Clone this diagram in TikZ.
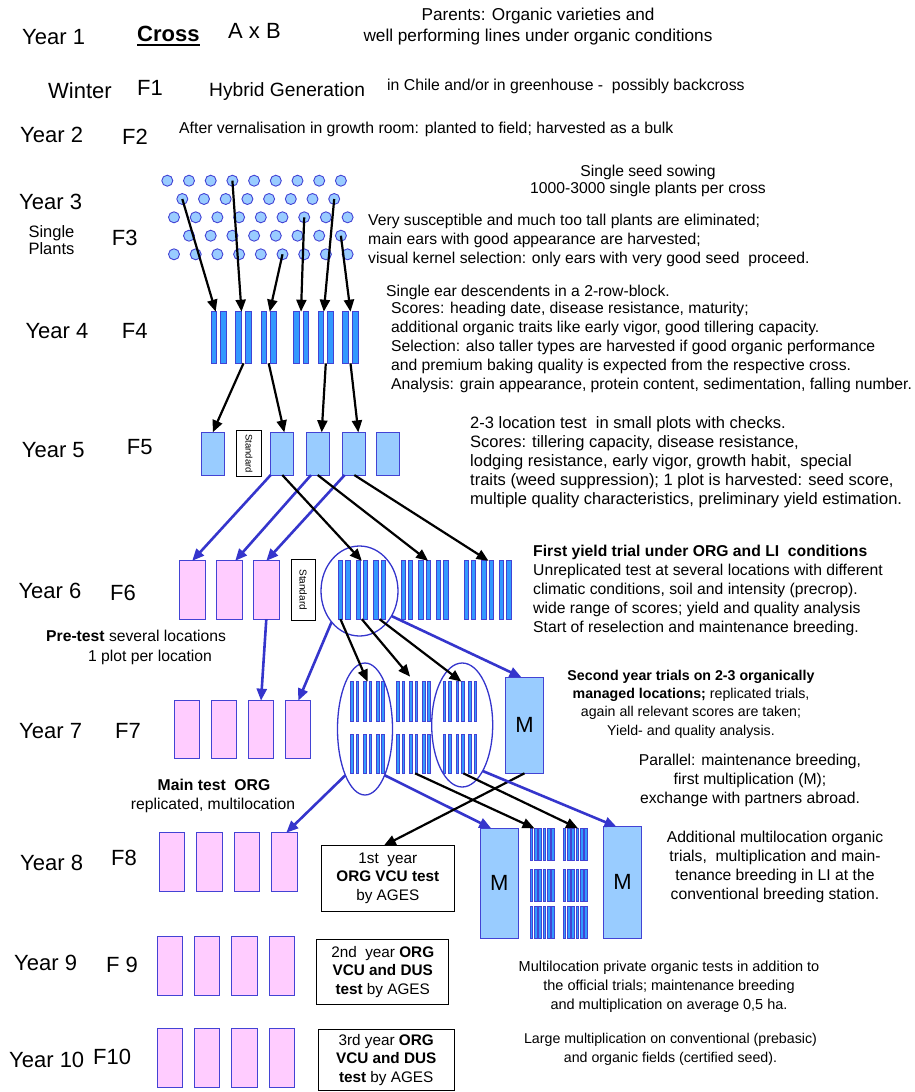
\documentclass[tikz,border=0pt]{standalone}
\usepackage{fontspec}
\setmainfont{Liberation Sans}
\usetikzlibrary{arrows.meta,shapes.geometric}
\definecolor{lb}{HTML}{99CCFF}
\definecolor{bd}{HTML}{4343D4}
\definecolor{bb}{HTML}{3399FF}
\definecolor{pk}{HTML}{FFCCFF}
\definecolor{ab}{HTML}{3535CC}
\tikzset{
  yr/.style={anchor=base west, inner sep=0pt, font=\fontsize{22}{26}\selectfont},
  tl/.style={anchor=base west, inner sep=0pt, font=\fontsize{15.7}{19}\selectfont},
  blk/.style={anchor=north west, inner sep=0pt, align=left, font=\fontsize{15.7}{19}\selectfont, execute at begin node=\strut},
  cblk/.style={anchor=north, inner sep=0pt, align=center, font=\fontsize{15.7}{19}\selectfont, execute at begin node=\strut},
  dotn/.style={circle, draw=bd, fill=lb, line width=0.9pt, minimum size=11pt, inner sep=0pt, outer sep=0pt},
  slot/.style 2 args={rectangle, inner sep=0pt, outer sep=0pt, minimum width=#1pt, minimum height=#2pt},
  barn/.style 2 args={slot={#1}{#2}, draw=bd, fill=bb, line width=0.8pt},
  lbox/.style 2 args={slot={#1}{#2}, draw=bd, fill=lb, line width=1pt},
  pbox/.style 2 args={slot={#1}{#2}, draw=bd, fill=pk, line width=1pt},
  sbox/.style 2 args={slot={#1}{#2}, draw=black, fill=white, line width=0.9pt},
  elln/.style 2 args={ellipse, draw=ab, line width=1.3pt, inner sep=0pt, outer sep=0pt, minimum width=#1pt, minimum height=#2pt},
  arrk/.style={draw=black, line width=2.2pt, -{Triangle[length=12pt,width=10pt]}},
  arrb/.style={draw=ab, line width=2.6pt, -{Triangle[length=12pt,width=10pt]}},
}
\begin{document}
\begin{tikzpicture}[x=1pt,y=-1pt]
\useasboundingbox (0,0) rectangle (914,1092);

% ---------- year and generation labels ----------
\node[yr] (y1) at (22,44) {Year 1};
\node[yr] (ywin) at (48,98) {Winter};
\node[yr] (y2) at (20,142) {Year 2};
\node[yr] (y3) at (19,209.3) {Year 3};
\node[yr] (y4) at (25.3,338.3) {Year 4};
\node[yr] (y5) at (21.7,457.7) {Year 5};
\node[yr] (y6) at (18.3,598.3) {Year 6};
\node[yr] (y7) at (19,738) {Year 7};
\node[yr] (y8) at (20,870) {Year 8};
\node[yr] (y9) at (14,970) {Year 9};
\node[yr] (y10) at (9,1067) {Year 10};

\node[yr] (fa) at (137,95) {F1};
\node[yr] (fb) at (122,144) {F2};
\node[yr] (fc) at (111.7,245) {F3};
\node[yr] (fd) at (121.7,338.3) {F4};
\node[yr] (fe) at (126.7,454.3) {F5};
\node[yr] (ff) at (110,600) {F6};
\node[yr] (fg) at (115,738) {F7};
\node[yr] (fh) at (111,865) {F8};
\node[yr] (fi) at (106,972) {F 9};
\node[yr] (fj) at (93,1064) {F10};

\node[anchor=north west, inner sep=0pt, align=left, font=\fontsize{16.5}{16.7}\selectfont, execute at begin node=\strut] (sp) at (28.3,225.6) {Single\\Plants};

% ---------- top texts ----------
\node[anchor=base west, inner sep=0pt, font=\fontsize{22}{26}\selectfont\bfseries] (cross) at (137,41) {Cross};
\draw[line width=2pt] ([yshift=-3.5pt]cross.base west) -- ([yshift=-3.5pt]cross.base east);
\node[yr] (axb) at (228,38) {A x B};
\node[anchor=north, inner sep=0pt, align=center, font=\fontsize{17.2}{21}\selectfont, execute at begin node=\strut] (par) at (538,7.5) {Parents: Organic varieties and\\well performing lines under organic conditions};
\node[anchor=base west, inner sep=0pt, font=\fontsize{19.2}{22}\selectfont] (hyb) at (209,96.5) {Hybrid Generation};
\node[anchor=base west, inner sep=0pt, font=\fontsize{15.8}{19}\selectfont] (chile) at (387,90.5) {in Chile and/or in greenhouse -\ \ possibly backcross};
\node[anchor=base west, inner sep=0pt, font=\fontsize{15.8}{19}\selectfont] (vern) at (179,133.5) {After vernalisation in growth room: planted to field; harvested as a bulk};

% ---------- descriptive texts ----------
\node[anchor=north, inner sep=0pt, align=center, font=\fontsize{15.7}{17}\selectfont, execute at begin node=\strut] (sss) at (648,164.6) {Single seed sowing\\1000-3000 single plants per cross};
\node[blk] (t3) at (368,214.2) {Very susceptible and much too tall plants are eliminated;\\main ears with good appearance are harvested;\\visual kernel selection: only ears with very good seed\ \ proceed.};
\node[tl] (t4a) at (386,296.5) {Single ear descendents in a 2-row-block.};
\node[blk] (t4b) at (391,302.2) {Scores: heading date, disease resistance, maturity;\\additional organic traits like early vigor, good tillering capacity.\\Selection: also taller types are harvested if good organic performance\\and premium baking quality is expected from the respective cross.\\Analysis: grain appearance, protein content, sedimentation, falling number.};
\node[blk, font=\fontsize{16.5}{19}\selectfont] (t5) at (470,416.2) {2-3 location test\ \ in small plots with checks.\\Scores: tillering capacity, disease resistance,\\lodging resistance, early vigor, growth habit,\ \ special\\traits (weed suppression); 1 plot is harvested: seed score,\\multiple quality characteristics, preliminary yield estimation.};
\node[blk] (t6) at (533,545.2) {\textbf{First yield trial under ORG and LI\ \ conditions}\\Unreplicated test at several locations with different\\climatic conditions, soil and intensity (precrop).\\wide range of scores; yield and quality analysis\\Start of reselection and maintenance breeding.};
\node[tl] (pre) at (46,641.5) {\textbf{Pre-test} several locations};
\node[tl, anchor=base] (pre2) at (150,661.5) {1 plot per location};
\node[cblk, font=\fontsize{14.2}{18.3}\selectfont] (t7) at (691,669.7) {\textbf{Second year trials on 2-3 organically}\\\textbf{managed locations;} replicated trials,\\again all relevant scores are taken;\\Yield- and quality analysis.};
\node[cblk] (t7b) at (750,754.2) {Parallel: maintenance breeding,\\first multiplication (M);\\exchange with partners abroad.};
\node[tl, anchor=base] (mt) at (214,790.5) {\textbf{Main test\ \ ORG}};
\node[tl, anchor=base] (mt2) at (213,809.5) {replicated, multilocation};
\node[cblk] (t8) at (775,831.2) {Additional multilocation organic\\trials,\ \ multiplication and main-\\tenance breeding in LI at the\\conventional breeding station.};
\node[cblk, font=\fontsize{14.5}{19}\selectfont] (t9) at (669,961.2) {Multilocation private organic tests in addition to\\the official trials; maintenance breeding\\and multiplication on average 0,5 ha.};
\node[cblk, font=\fontsize{14.2}{19}\selectfont] (t10) at (670.5,1033.2) {Large multiplication on conventional (prebasic)\\and organic fields (certified seed).};

% ---------- F3 single plants ----------
\foreach \r/\yy/\xs/\n in {1/180.7/167.3/8,2/199/182.3/7,3/217.3/174/8,4/235.7/189/7,5/254.3/174/8}{
  \foreach \k in {0,...,\n}{
    \node[dotn] (d\r-\k) at ({\xs+21.7*\k},\yy) {};
  }
}

% ---------- F4 two-row blocks ----------
\foreach \i/\c in {1/218.7,2/243.5,3/268.7,4/301,5/325.8,6/350.5}{
  \node[slot={15.5}{51.6}] (p4-\i) at (\c,337.5) {};
  \node[barn={5.7}{51.6}] (p4-\i-a) at ({\c-4.9},337.5) {};
  \node[barn={5.7}{51.6}] (p4-\i-b) at ({\c+4.9},337.5) {};
}

% ---------- F5 plots ----------
\foreach \i/\c in {1/212.7,3/282.3,4/317.7,5/354.3,6/387.7}{
  \node[lbox={23.3}{42.7}] (f5-\i) at (\c,453.7) {};
}
\node[sbox={46}{24.6}, rotate=-90, font=\fontsize{9.5}{10}\selectfont] (f5-2) at (249,453.7) {Standard};

% ---------- F6 ----------
\foreach \i/\c in {1/192.2,2/229.2,3/266.3}{
  \node[pbox={25.7}{58.3}] (f6p-\i) at (\c,590) {};
}
\node[sbox={60.7}{24.7}, rotate=-90, font=\fontsize{10}{11}\selectfont] (f6s) at (303.3,589.7) {Standard};
\foreach \g in {1,2,3}{
  \foreach \j in {1,2,3}{
    \pgfmathsetmacro\cx{344.1+62.85*(\g-1)+17.7*(\j-1)}
    \node[slot={11.6}{58.3}] (g6-\g-\j) at (\cx,590) {};
    \node[barn={4.3}{58.3}] (g6-\g-\j-a) at ({\cx-3.65},590) {};
    \node[barn={4.3}{58.3}] (g6-\g-\j-b) at ({\cx+3.65},590) {};
  }
}
\node[elln={77}{90}] (e6) at (359.5,591) {};

% ---------- F7 ----------
\foreach \i/\c in {1/186.7,2/223.7,3/261,4/298.3}{
  \node[pbox={25.3}{58.3}] (f7p-\i) at (\c,729.8) {};
}
\foreach \g/\s in {a/354.7,b/400.7,c/447}{
  \foreach \r/\yc in {1/701.3,2/753.7}{
    \foreach \j in {1,2,3}{
      \pgfmathsetmacro\cx{\s+12.9*(\j-1)}
      \node[slot={8}{39.3}] (g7\g-\r-\j) at (\cx,\yc) {};
      \node[barn={2.7}{39.3}] (g7\g-\r-\j-a) at ({\cx-2.65},\yc) {};
      \node[barn={2.7}{39.3}] (g7\g-\r-\j-b) at ({\cx+2.65},\yc) {};
    }
  }
}
\node[elln={55}{132}] (e7a) at (365,729) {};
\node[elln={61}{124}] (e7b) at (462.2,725) {};
\node[lbox={38.4}{96}, font=\fontsize{22}{22}\selectfont] (m7) at (524.5,725.3) {M};

% ---------- F8 ----------
\foreach \i/\c in {1/171.8,2/209.3,3/246.8,4/284.3}{
  \node[pbox={25.5}{59}] (f8p-\i) at (\c,862.2) {};
}
\node[sbox={132.3}{65.3}, align=center, font=\fontsize{15.3}{18.5}\selectfont] (v1) at (387.8,878.3) {1st\ \ year\\\textbf{ORG VCU test}\\by AGES};
\node[lbox={38.3}{109.7}, font=\fontsize{22}{22}\selectfont] (m8a) at (499.2,883.2) {M};
\node[lbox={38.4}{111.3}, font=\fontsize{22}{22}\selectfont] (m8b) at (622.5,882.4) {M};
\foreach \g/\s in {1/533.5,2/566.5}{
  \foreach \r/\yc in {1/844.2,2/885.2,3/922.4}{
    \foreach \j in {1,2,3}{
      \pgfmathsetmacro\cx{\s+8.6*(\j-1)}
      \node[slot={7}{31.7}] (g8-\g-\r-\j) at (\cx,\yc) {};
      \node[barn={2.7}{31.7}] (g8-\g-\r-\j-a) at ({\cx-2.15},\yc) {};
      \node[barn={2.7}{31.7}] (g8-\g-\r-\j-b) at ({\cx+2.15},\yc) {};
    }
  }
}

% ---------- F9 / F10 ----------
\foreach \i/\c in {1/170,2/207.2,3/244.5,4/281.7}{
  \node[pbox={25.3}{59}] (f9p-\i) at (\c,965.5) {};
  \node[pbox={25.3}{59}] (f10p-\i) at (\c,1057.8) {};
}
\node[sbox={132}{65.3}, align=center, font=\fontsize{15.3}{18.5}\selectfont] (v2) at (382.7,971.7) {2nd\ \ year \textbf{ORG}\\\textbf{VCU and DUS}\\\textbf{test} by AGES};
\node[sbox={135.7}{61.5}, align=center, font=\fontsize{15.3}{18.5}\selectfont] (v3) at (386.2,1059.8) {3rd year \textbf{ORG}\\\textbf{VCU and DUS}\\\textbf{test} by AGES};

% ---------- connectors ----------
\draw[arrk] (d2-0.center) -- ([xshift=-3pt]p4-1.north);
\draw[arrk] (d1-3.center) -- ([xshift=-2pt]p4-2.north);
\draw[arrk] (d5-5.center) -- ([xshift=1pt]p4-3.north);
\draw[arrk] (d3-6.center) -- (p4-4.north);
\draw[arrk] (d2-7.center) -- ([xshift=-2pt]p4-5.north);
\draw[arrk] (d4-7.center) -- (p4-6.north);

\draw[arrk] (p4-2.south) -- (f5-1.north);
\draw[arrk] (p4-3.south) -- ([xshift=2pt]f5-3.north);
\draw[arrk] (p4-5.south) -- ([xshift=4pt]f5-4.north);
\draw[arrk] (p4-6.south) -- ([xshift=4pt]f5-5.north);

\draw[arrb] (f5-3.south west) -- (f6p-1.north);
\draw[arrb] ([xshift=5pt]f5-4.south west) -- ([xshift=6pt]f6p-2.north);
\draw[arrb] ([xshift=2pt]f5-5.south west) -- (f6p-3.north);
\draw[arrk] (f5-3.south) -- (g6-1-2.north);
\draw[arrk] (f5-4.south) -- ([xshift=3.5pt]g6-2-2.north);
\draw[arrk] (f5-5.south) -- ([xshift=1pt]g6-3-2.north);

\draw[arrb] (f6p-3.south) -- (f7p-3.north);
\draw[arrb] (e6.228) -- (f7p-4.north);
\draw[arrk] (g6-1-1-a.south) -- (g7a-1-2.north);
\draw[arrk] (g6-1-2.south) -- ([xshift=-3.5pt,yshift=5pt]g7b-1-2.north);
\draw[arrk] (g6-1-3.south) -- ([xshift=1.5pt]g7c-1-2.north);
\draw[arrb] (e6.322) -- ([xshift=-3pt]m7.north);

\draw[arrb] (e7a.247) -- ([xshift=2pt]f8p-4.north);
\draw[arrb] (e7a.293) -- ([xshift=-8pt]m8a.north);
\draw[arrk] ([xshift=1.5pt]g7b-2-2.south) -- ([xshift=1pt]g8-1-1-1.north);
\draw[arrk] ([xshift=3.5pt]g7c-2-2.south) -- ([xshift=3pt]g8-2-1-2.north);
\draw[arrk] (m7.south) -- ([xshift=-4pt]v1.north);
\draw[arrb] (e7b.294) -- ([xshift=-6pt]m8b.north);
\end{tikzpicture}
\end{document}
